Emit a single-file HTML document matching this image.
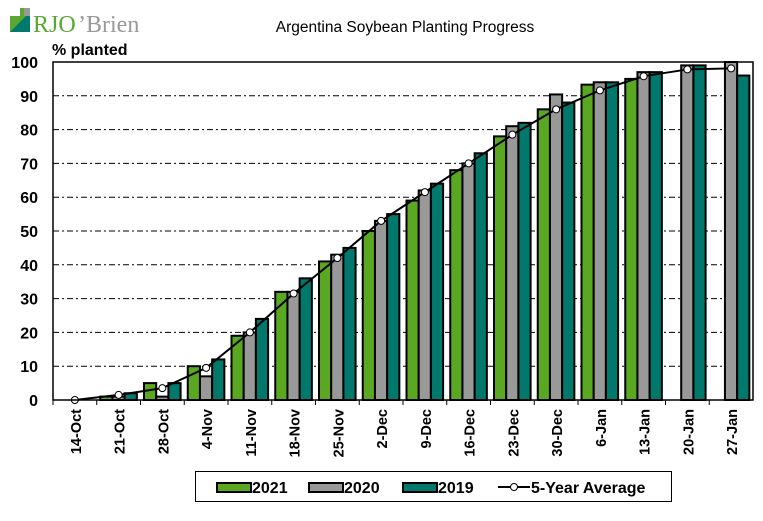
<!DOCTYPE html>
<html><head><meta charset="utf-8"><style>
body{margin:0;background:#fff;}
svg text{font-family:"Liberation Sans",Arial,sans-serif;}
svg text.serif{font-family:"Liberation Serif",serif;}
</style></head><body>
<svg id="c" width="763" height="516" xmlns="http://www.w3.org/2000/svg">
<rect width="763" height="516" fill="#fff"/>
<rect x="10" y="8" width="20" height="24" fill="#5aa832"/>
<rect x="10" y="8" width="10" height="8" fill="#fff"/>
<polygon points="10,32 30,32 30,12" fill="#007a6c"/>
<rect x="24" y="8" width="6" height="8" fill="#999"/>
<text class="serif" x="33" y="32" font-size="24" fill="#5aa832">RJO</text>
<text class="serif" x="78" y="32" font-size="24" fill="#999">’Brien</text>
<text x="405" y="32" font-size="15.5" text-anchor="middle">Argentina Soybean Planting Progress</text>
<text x="52" y="55" font-size="16" font-weight="bold">% planted</text>
<g id="g"></g>
</svg>
<script>
var g=document.getElementById('g'),h='';
function Y(v){return 400-v*3.38;}
var L=53,R=753,W=43.75;
for(var v=10;v<=90;v+=10){h+='<line x1="'+L+'" x2="'+R+'" y1="'+Y(v)+'" y2="'+Y(v)+'" stroke="#000" stroke-width="1" stroke-dasharray="6,3,2,3"/>';}
for(var v=0;v<=100;v+=10){h+='<text x="38" y="'+(Y(v)+6)+'" font-size="16" font-weight="bold" text-anchor="end">'+v+'</text>';}
var a=[0,1,5,10,19,32,41,50,59,68,78,86,93.3,95,null,null];
var b=[0,1,1,7,20,32,43,53,62,70,81,90.4,94,97,99,100];
var c=[0,2,5,12,24,36,45,55,64,73,82,88,94,97,99,96];
var m=[0,1.5,3.5,9.5,20,31.5,42,53,61.5,70,78.5,86,91.6,95.8,97.8,98.1];
var lab=['14-Oct','21-Oct','28-Oct','4-Nov','11-Nov','18-Nov','25-Nov','2-Dec','9-Dec','16-Dec','23-Dec','30-Dec','6-Jan','13-Jan','20-Jan','27-Jan'];
var cols=['#5aa822','#999999','#00786c'];
var pts=[];
for(var i=0;i<16;i++){
 var x0=L+i*W+3.5;
 [a,b,c].forEach(function(s,j){var v=s[i];if(v===null||v===0)return;
  h+='<rect x="'+(x0+j*12.2)+'" y="'+Y(v)+'" width="12.2" height="'+(v*3.38)+'" fill="'+cols[j]+'" stroke="#000" stroke-width="2"/>';});
 var cx=L+i*W+W/2;pts.push(cx+','+Y(m[i]));
 h+='<line x1="'+(L+i*W)+'" x2="'+(L+i*W)+'" y1="400" y2="405" stroke="#000"/>';
 h+='<text transform="translate('+(cx+6)+',409) rotate(-90)" font-size="14.5" font-weight="bold" text-anchor="end">'+lab[i]+'</text>';
}
h+='<polyline points="'+pts.join(' ')+'" fill="none" stroke="#000" stroke-width="2"/>';
pts.forEach(function(p){var q=p.split(',');h+='<circle cx="'+q[0]+'" cy="'+q[1]+'" r="3.5" fill="#fff" stroke="#000" stroke-width="1"/>';});
h+='<rect x="'+L+'" y="62" width="'+(R-L)+'" height="338" fill="none" stroke="#000" stroke-width="1.5"/>';
h+='<rect x="195.5" y="471.5" width="476" height="30" fill="#fff" stroke="#000" stroke-width="1"/>';
[[217,'2021',0],[309,'2020',1],[403,'2019',2]].forEach(function(e){
 h+='<rect x="'+e[0]+'" y="483" width="34" height="9" fill="'+cols[e[2]]+'" stroke="#000" stroke-width="2"/>';
 h+='<text x="'+(e[0]+35)+'" y="493" font-size="16" font-weight="bold">'+e[1]+'</text>';});
h+='<line x1="498" x2="530" y1="487" y2="487" stroke="#000" stroke-width="2"/><circle cx="514" cy="487" r="3.5" fill="#fff" stroke="#000"/>';
h+='<text x="531" y="493" font-size="16" font-weight="bold">5-Year Average</text>';
g.innerHTML=h;
</script>
</body></html>
